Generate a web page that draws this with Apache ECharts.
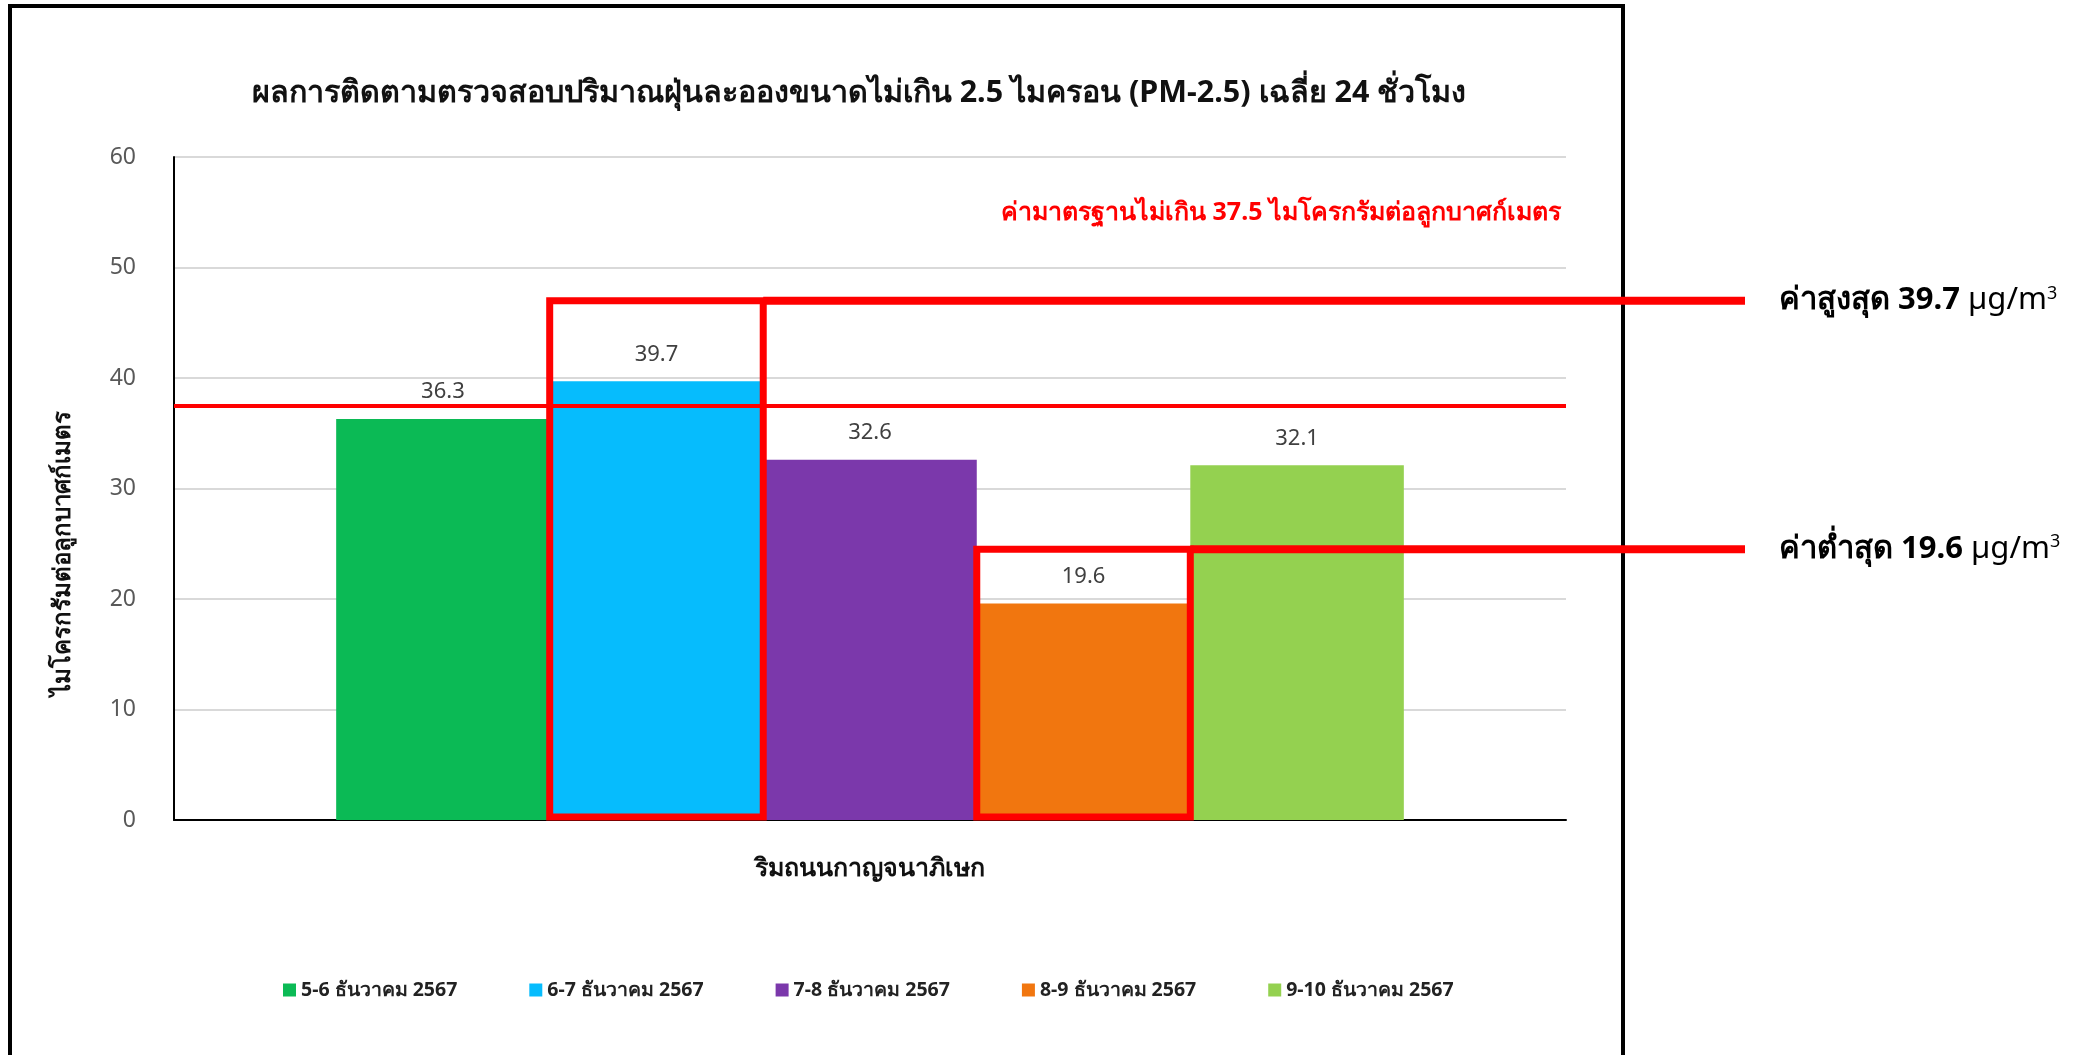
<!DOCTYPE html>
<html>
<head>
<meta charset="utf-8">
<script src="https://cdn.jsdelivr.net/npm/echarts@6/dist/echarts.min.js"></script>
<style>
  html, body { margin: 0; padding: 0; background: #fff; }
  #chart { width: 2088px; height: 1055px; }
</style>
</head>
<body>
<div id="chart"></div>
<script>
// Monitoring site (single category on the x axis)
const sites = ['ริมถนนกาญจนาภิเษก'];
// Sampling periods, one bar each
const periods = ['5-6 ธันวาคม 2567', '6-7 ธันวาคม 2567', '7-8 ธันวาคม 2567', '8-9 ธันวาคม 2567', '9-10 ธันวาคม 2567'];
// 24-hour average PM2.5 (µg/m³)
const pm25 = [36.3, 39.7, 32.6, 19.6, 32.1];
const barColors = ['#0BBA55', '#06BCFD', '#7B38AB', '#F1760F', '#94D150'];
// Thai standard limit
const standardLimit = 37.5;
// Value axis ticks
const yMin = 0, yMax = 60, yStep = 10;
// Heights (axis units) of the highlight boxes around the max / min bars
const highBoxTop = 47;
const lowBoxTop = 24.5;

const FONT = 'Tahoma, "Noto Sans", "DejaVu Sans", sans-serif';

const chart = echarts.init(document.getElementById('chart'), null, { renderer: 'canvas' });

const series = periods.map((p, i) => ({
  name: p,
  type: 'bar',
  data: [pm25[i]],
  itemStyle: { color: barColors[i] },
  barGap: '0%',
  barCategoryGap: '23.3%',
  label: {
    show: true,
    position: 'top',
    distance: 16,
    fontFamily: FONT,
    fontSize: 22,
    color: '#404040',
    formatter: (d) => d.value.toFixed(1)
  },
  markLine: i === 0 ? {
    silent: true,
    symbol: 'none',
    label: { show: false },
    lineStyle: { color: '#FF0000', width: 4, type: 'solid' },
    data: [{ yAxis: standardLimit }]
  } : undefined
}));

chart.setOption({
  animation: false,
  backgroundColor: '#ffffff',
  textStyle: { fontFamily: FONT },
  grid: { left: 174, right: 522, top: 157, bottom: 235, containLabel: false },
  legend: {
    data: periods,
    left: 278,
    top: 975,
    icon: 'rect',
    itemWidth: 13,
    itemHeight: 13,
    itemGap: 72,
    textStyle: { fontFamily: FONT, fontSize: 19.5, fontWeight: 'bold', color: '#222' }
  },
  xAxis: {
    type: 'category',
    data: sites,
    axisLine: { lineStyle: { color: '#000', width: 2 } },
    axisTick: { show: false },
    axisLabel: { fontFamily: FONT, fontSize: 25, fontWeight: 'bold', color: '#111', margin: 36 }
  },
  yAxis: {
    type: 'value',
    min: yMin,
    max: yMax,
    interval: yStep,
    axisLine: { show: true, lineStyle: { color: '#000', width: 2 } },
    axisTick: { show: false },
    axisLabel: { fontFamily: FONT, fontSize: 23, color: '#595959', margin: 38 },
    splitLine: { lineStyle: { color: '#D9D9D9', width: 2 } }
  },
  series: series
});

// Highlight boxes, leader lines and notes, placed from the bar layouts
function barLayout(i) {
  const l = chart.getModel().getSeriesByIndex(i).getData().getItemLayout(0);
  const top = Math.min(l.y, l.y + l.height);
  const bottom = Math.max(l.y, l.y + l.height);
  return { x: l.x, w: l.width, top, bottom };
}

const maxIdx = pm25.indexOf(Math.max(...pm25));
const minIdx = pm25.indexOf(Math.min(...pm25));
const leaderEnd = 1745;
const noteX = 1779;

function highlight(idx, boxTopValue, label) {
  const b = barLayout(idx);
  const yTop = chart.convertToPixel({ yAxisIndex: 0 }, boxTopValue);
  const yBot = b.bottom - 3;
  const red = '#FF0000';
  return [
    { type: 'rect', z: 100, shape: { x: b.x, y: yTop, width: b.w, height: yBot - yTop },
      style: { fill: null, stroke: red, lineWidth: 7 } },
    { type: 'line', z: 100, shape: { x1: b.x + b.w, y1: yTop, x2: leaderEnd, y2: yTop },
      style: { stroke: red, lineWidth: 8 } },
    { type: 'text', z: 100, x: noteX, y: yTop,
      style: {
        text: '{b|' + label + ' ' + pm25[idx].toFixed(1) + '}{n|\u00A0µg/m}{s|3}',
        verticalAlign: 'middle',
        rich: {
          b: { fontFamily: FONT, fontSize: 31, fontWeight: 'bold', fill: '#000' },
          n: { fontFamily: FONT, fontSize: 31, fill: '#000' },
          s: { fontFamily: FONT, fontSize: 18, fill: '#000', verticalAlign: 'top', padding: [0, 0, 14, 0] }
        }
      } }
  ];
}

const graphics = [
  // chart frame
  { type: 'rect', z: 90, shape: { x: 10, y: 6, width: 1613, height: 1100 },
    style: { fill: null, stroke: '#000', lineWidth: 4 } },
  // title
  { type: 'text', z: 90, x: 859, y: 93,
    style: { text: 'ผลการติดตามตรวจสอบปริมาณฝุ่นละอองขนาดไม่เกิน 2.5 ไมครอน (PM-2.5) เฉลี่ย 24 ชั่วโมง',
      fontFamily: FONT, fontSize: 30.5, fontWeight: 'bold', fill: '#111', align: 'center', verticalAlign: 'middle' } },
  // y axis name
  { type: 'text', z: 90, x: 63, y: 553, rotation: Math.PI / 2,
    style: { text: 'ไมโครกรัมต่อลูกบาศก์เมตร', fontFamily: FONT, fontSize: 24, fontWeight: 'bold', fill: '#111',
      align: 'center', verticalAlign: 'middle' } },
  // standard note
  { type: 'text', z: 90, x: 1561, y: 213,
    style: { text: 'ค่ามาตรฐานไม่เกิน ' + standardLimit + ' ไมโครกรัมต่อลูกบาศก์เมตร', fontFamily: FONT, fontSize: 25,
      fontWeight: 'bold', fill: '#FF0000', align: 'right', verticalAlign: 'middle' } }
]
  .concat(highlight(maxIdx, highBoxTop, 'ค่าสูงสุด'))
  .concat(highlight(minIdx, lowBoxTop, 'ค่าต่ำสุด'));

chart.setOption({ graphic: graphics });
</script>
</body>
</html>
